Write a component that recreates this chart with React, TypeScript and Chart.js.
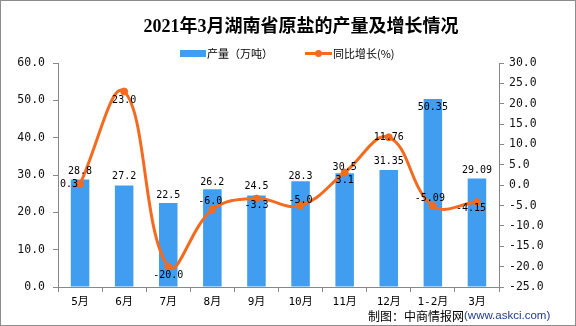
import React, { useEffect, useRef } from 'react';
import { Chart, registerables } from 'chart.js';

Chart.register(...registerables);

const TITLE = '2021年3月湖南省原盐的产量及增长情况';
const LEGEND_BAR = '产量（万吨）';
const LEGEND_LINE = '同比增长(%)';
const FOOTER_CN = '制图：中商情报网';
const FOOTER_URL = '(www.askci.com)';

const categories = ['5月', '6月', '7月', '8月', '9月', '10月', '11月', '12月', '1-2月', '3月'];
const production = [28.8, 27.2, 22.5, 26.2, 24.5, 28.3, 30.5, 31.35, 50.35, 29.09];
const growth = [0.3, 23.0, -20.0, -6.0, -3.3, -5.0, 3.1, 11.76, -5.09, -4.15];

const leftAxis = { min: 0, max: 60, step: 10 };
const rightAxis = { min: -25, max: 30, step: 5 };

// label placement hints (style only): offsets from the mark in px
const barLabelDy = [-8, -9, -8, -7, -9, -5, -6, -9, 8, -8];
const lineLabelDx = [-11, 0, 0, -2, 0, 0, 0, 0, -3, -6];
const lineLabelDy = [0, 9, 9, -8, 7, -5, 8, 0, -8, 6];

const BAR_COLOR = '#419df0';
const LINE_COLOR = '#f46b1f';
const AXIS_COLOR = '#888888';
const MONO = "'DejaVu Sans Mono', 'Noto Sans CJK SC', monospace";
const CJK = "'Noto Sans CJK SC', 'DejaVu Sans', sans-serif";

function fmt(v: number): string {
  const t = v * 10;
  return Math.abs(Math.round(t) - t) < 1e-9 ? v.toFixed(1) : v.toFixed(2);
}

const decorPlugin = {
  id: 'decor',
  beforeDraw(chart: any) {
    const { ctx, width, height } = chart;
    ctx.save();
    ctx.fillStyle = '#ffffff';
    ctx.fillRect(0, 0, width, height);
    ctx.restore();
  },
  afterDraw(chart: any) {
    const { ctx, width, height } = chart;
    ctx.save();
    // border
    ctx.strokeStyle = '#8c8c8c';
    ctx.lineWidth = 1;
    ctx.strokeRect(0.5, 0.5, width - 1, height - 1);

    // title
    ctx.fillStyle = '#000000';
    ctx.font = "bold 18px 'Liberation Serif', 'Noto Sans CJK SC', serif";
    ctx.textAlign = 'center';
    ctx.textBaseline = 'middle';
    ctx.fillText(TITLE, 301, 27);

    // legend
    ctx.fillStyle = BAR_COLOR;
    ctx.fillRect(180, 50, 26, 7);
    ctx.fillStyle = '#000000';
    ctx.font = `11px ${CJK}`;
    ctx.textAlign = 'left';
    ctx.fillText(LEGEND_BAR, 207, 53.5);
    ctx.strokeStyle = LINE_COLOR;
    ctx.lineWidth = 3;
    ctx.beginPath();
    ctx.moveTo(305, 53.5);
    ctx.lineTo(332, 53.5);
    ctx.stroke();
    ctx.fillStyle = LINE_COLOR;
    ctx.beginPath();
    ctx.arc(318.5, 53.5, 3.5, 0, Math.PI * 2);
    ctx.fill();
    ctx.fillStyle = '#000000';
    ctx.fillText(LEGEND_LINE, 333, 53.5);

    // data labels
    ctx.font = `10px ${MONO}`;
    ctx.textAlign = 'center';
    ctx.textBaseline = 'middle';
    ctx.fillStyle = '#000000';
    const barMeta = chart.getDatasetMeta(0);
    barMeta.data.forEach((el: any, i: number) => {
      ctx.fillText(fmt(production[i]), el.x, el.y + barLabelDy[i]);
    });
    const lineMeta = chart.getDatasetMeta(1);
    lineMeta.data.forEach((el: any, i: number) => {
      ctx.fillText(fmt(growth[i]), el.x + lineLabelDx[i], el.y + lineLabelDy[i]);
    });

    // footer
    ctx.textAlign = 'left';
    ctx.font = `12px ${CJK}`;
    ctx.fillStyle = '#000000';
    ctx.fillText(FOOTER_CN, 368, 316);
    const w = ctx.measureText(FOOTER_CN).width;
    ctx.font = "11.5px 'Liberation Sans', Arial, sans-serif";
    ctx.fillStyle = '#1f3b8a';
    ctx.fillText(FOOTER_URL, 368 + w, 316);
    ctx.restore();
  },
};

export default function App() {
  const canvasRef = useRef<HTMLCanvasElement | null>(null);

  useEffect(() => {
    document.body.style.margin = '0';
    const canvas = canvasRef.current;
    if (!canvas) return;
    const chart = new Chart(canvas, {
      type: 'bar',
      data: {
        labels: categories,
        datasets: [
          {
            type: 'bar',
            label: LEGEND_BAR,
            data: production,
            backgroundColor: BAR_COLOR,
            borderWidth: 0,
            barPercentage: 0.42,
            categoryPercentage: 1,
            yAxisID: 'y',
            order: 2,
          },
          {
            type: 'line',
            label: LEGEND_LINE,
            data: growth,
            borderColor: LINE_COLOR,
            backgroundColor: LINE_COLOR,
            borderWidth: 3,
            pointRadius: 3.5,
            pointBackgroundColor: LINE_COLOR,
            pointBorderColor: LINE_COLOR,
            pointBorderWidth: 1,
            tension: 0.4,
            yAxisID: 'y1',
            order: 1,
          } as any,
        ],
      },
      options: {
        responsive: false,
        animation: false,
        devicePixelRatio: 1,
        layout: { padding: { top: 63, left: 0, right: 0, bottom: 0 } },
        plugins: {
          legend: { display: false },
          title: { display: false },
          tooltip: { enabled: false },
        },
        scales: {
          x: {
            type: 'category',
            offset: true,
            grid: {
              display: true,
              offset: true,
              drawOnChartArea: false,
              drawTicks: true,
              tickLength: 5,
              color: AXIS_COLOR,
            },
            border: { color: AXIS_COLOR, width: 1 },
            ticks: { padding: 4, color: '#000000', font: { size: 11, family: MONO }, maxRotation: 0, autoSkip: false },
            afterFit: (s: any) => { s.height = 39; },
          },
          y: {
            position: 'left',
            min: leftAxis.min,
            max: leftAxis.max,
            ticks: {
              stepSize: leftAxis.step,
              padding: 8,
              color: '#111111',
              font: { size: 11.5, family: MONO },
              callback: (v: any) => Number(v).toFixed(1),
            },
            grid: { drawOnChartArea: false, drawTicks: true, tickLength: 5, color: AXIS_COLOR },
            border: { color: AXIS_COLOR, width: 1 },
            afterFit: (s: any) => { s.width = 58; },
          },
          y1: {
            position: 'right',
            min: rightAxis.min,
            max: rightAxis.max,
            ticks: {
              stepSize: rightAxis.step,
              padding: 5,
              color: '#111111',
              font: { size: 11.5, family: MONO },
              callback: (v: any) => Number(v).toFixed(1),
            },
            grid: { drawOnChartArea: false, drawTicks: true, tickLength: 5, color: AXIS_COLOR },
            border: { color: AXIS_COLOR, width: 1 },
            afterFit: (s: any) => { s.width = 77; },
          },
        },
      } as any,
      plugins: [decorPlugin],
    });
    return () => chart.destroy();
  }, []);

  return (
    <div style={{ position: 'absolute', left: 0, top: 0, width: 576, height: 326 }}>
      <canvas ref={canvasRef} width={576} height={326} />
    </div>
  );
}
